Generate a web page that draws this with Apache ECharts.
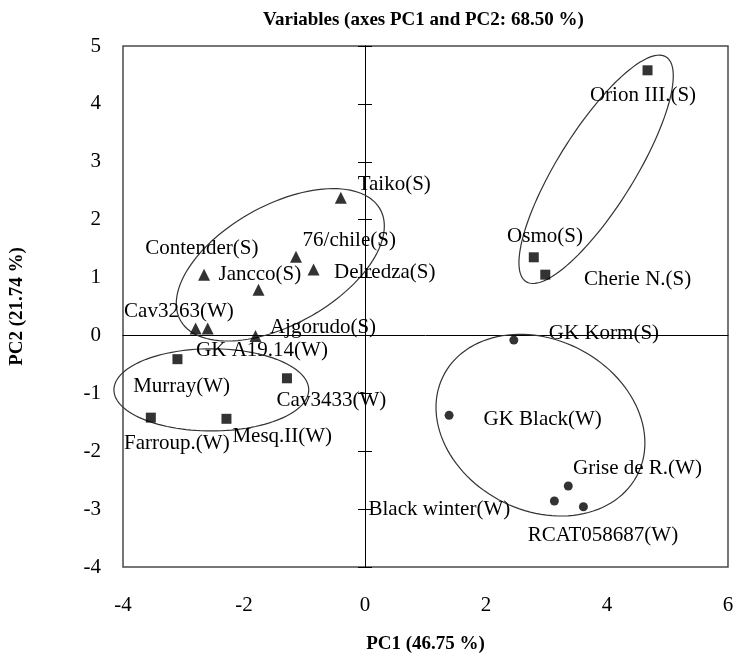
<!DOCTYPE html>
<html>
<head>
<meta charset="utf-8">
<script src="https://cdn.jsdelivr.net/npm/echarts@6/dist/echarts.min.js"></script>
<style>
	html, body { margin: 0; padding: 0; background: #fff; }
	#chart { width: 737px; height: 659px; }
</style>
</head>
<body>
<div id="chart"></div>
<script>
// summer (S) cultivars, triangles
var triangleX = [-0.40, -1.14, -0.85, -2.66, -1.76, -2.80, -2.60, -1.81];
var triangleY = [2.38, 1.36, 1.14, 1.05, 0.79, 0.12, 0.12, -0.01];
// squares
var squareX = [-3.10, -1.29, -3.54, -2.29, 4.67, 2.79, 2.98];
var squareY = [-0.41, -0.74, -1.42, -1.44, 4.58, 1.35, 1.05];
// circles
var circleX = [2.46, 1.39, 3.36, 3.13, 3.61];
var circleY = [-0.08, -1.38, -2.60, -2.86, -2.96];

// text labels, placed by their left edge
var labelNames = ['Taiko(S)', '76/chile(S)', 'Delredza(S)', 'Contender(S)', 'Jancco(S)', 'Cav3263(W)',
	'Ajgorudo(S)', 'GK A19.14(W)', 'Murray(W)', 'Cav3433(W)', 'Farroup.(W)', 'Mesq.II(W)',
	'Orion III.(S)', 'Osmo(S)', 'Cherie N.(S)', 'GK Korm(S)', 'GK Black(W)', 'Grise de R.(W)',
	'Black winter(W)', 'RCAT058687(W)'];
var labelX = [-0.13, -1.04, -0.52, -3.64, -2.43, -3.99, -1.58, -2.80, -3.84, -1.47, -3.99, -2.20,
	3.71, 2.34, 3.61, 3.03, 1.95, 3.43, 0.05, 2.68];
var labelY = [2.60, 1.64, 1.08, 1.50, 1.05, 0.41, 0.14, -0.26, -0.88, -1.13, -1.87, -1.75,
	4.15, 1.71, 0.96, 0.03, -1.45, -2.30, -3.00, -3.46];

// group ellipses: centre x, centre y, semi axis a, semi axis b, angle (deg)
var ellipseCx = [-1.40, -2.54, 3.82, 2.90];
var ellipseCy = [1.22, -0.94, 2.87, -1.55];
var ellipseA = [1.91, 1.61, 2.26, 1.82];
var ellipseB = [1.02, 0.71, 0.64, 1.46];
var ellipseAngle = [31, 0, 59.4, -32];

var xTicks = [-4, 6, 2];
var yTicks = [-4, 5, 1];

var fontFamily = '"Liberation Serif", "Times New Roman", serif';

function zip(xs, ys) {
	return xs.map(function (x, i) { return [x, ys[i]]; });
}

var ellipseData = ellipseCx.map(function (cx, i) {
	return [cx, ellipseCy[i], ellipseA[i], ellipseB[i], ellipseAngle[i]];
});

var labelData = labelX.map(function (x, i) {
	return { value: [x, labelY[i]], name: labelNames[i] };
});

function renderEllipse(params, api) {
	var cx = api.value(0), cy = api.value(1);
	var a = api.value(2), b = api.value(3);
	var t = api.value(4) * Math.PI / 180;
	var points = [];
	for (var k = 0; k < 120; k++) {
		var f = k / 120 * Math.PI * 2;
		var dx = a * Math.cos(f) * Math.cos(t) - b * Math.sin(f) * Math.sin(t);
		var dy = a * Math.cos(f) * Math.sin(t) + b * Math.sin(f) * Math.cos(t);
		points.push(api.coord([cx + dx, cy + dy]));
	}
	return {
		type: 'polygon',
		shape: { points: points },
		style: { fill: null, stroke: '#333', lineWidth: 1.2 }
	};
}

var chart = echarts.init(document.getElementById('chart'));

var option = {
	animation: false,
	backgroundColor: '#fff',
	title: {
		text: 'Variables (axes PC1 and PC2: 68.50 %)',
		left: 258,
		top: 6,
		textStyle: { fontFamily: fontFamily, fontSize: 19, fontWeight: 'bold', color: '#000' }
	},
	grid: {
		left: 120, right: 9, top: 46, bottom: 84,
		show: true, borderColor: '#4a4a4a', borderWidth: 1.5
	},
	xAxis: [
		{
			type: 'value', min: xTicks[0], max: xTicks[1], interval: xTicks[2],
			position: 'bottom',
			axisLine: { show: false, onZero: false },
			axisTick: { show: false },
			splitLine: { show: false },
			axisLabel: { margin: 28, fontSize: 21, fontFamily: fontFamily, color: '#000' },
			name: 'PC1 (46.75 %)', nameLocation: 'middle', nameGap: 68,
			nameTextStyle: { fontFamily: fontFamily, fontSize: 19, fontWeight: 'bold', color: '#000' }
		},
		{
			// horizontal line through y = 0
			type: 'value', min: xTicks[0], max: xTicks[1], interval: xTicks[2],
			axisLine: { show: true, onZero: true, lineStyle: { color: '#000', width: 1 } },
			axisTick: { show: false },
			axisLabel: { show: false },
			splitLine: { show: false }
		}
	],
	yAxis: [
		{
			type: 'value', min: yTicks[0], max: yTicks[1], interval: yTicks[2],
			position: 'left',
			axisLine: { show: false, onZero: false },
			axisTick: { show: false },
			splitLine: { show: false },
			axisLabel: { margin: 22, fontSize: 21, fontFamily: fontFamily, color: '#000' },
			name: 'PC2 (21.74 %)', nameLocation: 'middle', nameGap: 96,
			nameTextStyle: { fontFamily: fontFamily, fontSize: 19, fontWeight: 'bold', color: '#000' }
		},
		{
			// vertical line through x = 0, ticks pointing left
			type: 'value', min: yTicks[0], max: yTicks[1], interval: yTicks[2],
			position: 'left',
			axisLine: { show: true, onZero: true, lineStyle: { color: '#000', width: 1 } },
			axisTick: { show: true, length: 7, lineStyle: { color: '#000' } },
			axisLabel: { show: false },
			splitLine: { show: false }
		},
		{
			// same line, ticks pointing right
			type: 'value', min: yTicks[0], max: yTicks[1], interval: yTicks[2],
			position: 'left',
			axisLine: { show: true, onZero: true, lineStyle: { color: '#000', width: 1 } },
			axisTick: { show: true, inside: true, length: 7, lineStyle: { color: '#000' } },
			axisLabel: { show: false },
			splitLine: { show: false }
		}
	],
	series: [
		{
			type: 'custom',
			renderItem: renderEllipse,
			data: ellipseData,
			encode: { x: 0, y: 1 },
			clip: false,
			silent: true,
			z: 1
		},
		{
			type: 'scatter',
			symbol: 'triangle', symbolSize: 12,
			itemStyle: { color: '#000' },
			data: zip(triangleX, triangleY),
			z: 3
		},
		{
			type: 'scatter',
			symbol: 'rect', symbolSize: 10,
			itemStyle: { color: '#000' },
			data: zip(squareX, squareY),
			z: 3
		},
		{
			type: 'scatter',
			symbol: 'circle', symbolSize: 9,
			itemStyle: { color: '#000' },
			data: zip(circleX, circleY),
			z: 3
		},
		{
			type: 'scatter',
			symbol: 'circle', symbolSize: 1,
			itemStyle: { color: 'rgba(0,0,0,0)' },
			data: labelData,
			label: {
				show: true,
				position: 'right',
				distance: 0,
				formatter: '{b}',
				fontFamily: fontFamily,
				fontSize: 21,
				color: '#000',
				opacity: 1
			},
			z: 4
		}
	]
};

chart.setOption(option);
</script>
</body>
</html>
